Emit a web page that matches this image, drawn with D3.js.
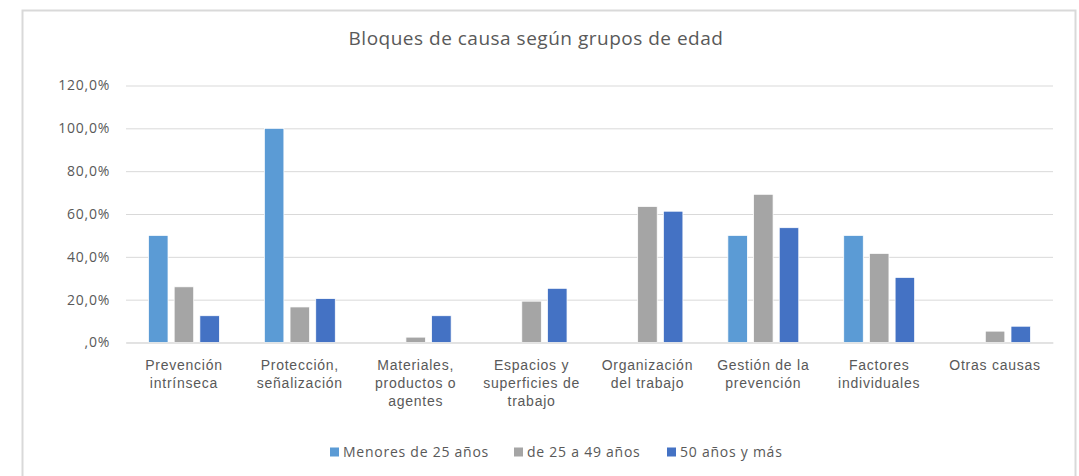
<!DOCTYPE html>
<html>
<head>
<meta charset="utf-8">
<script src="https://cdn.jsdelivr.net/npm/d3@7"></script>
<style>
  html, body { margin: 0; padding: 0; background: #fff; }
  svg { display: block; font-family: "Open Sans", "Noto Sans", sans-serif; }
</style>
</head>
<body>
<svg id="chart" width="1079" height="476"></svg>
<script>
// Categories (cause blocks) and the three age-group series, in percent
const categories = [
  "Prevención intrínseca",
  "Protección, señalización",
  "Materiales, productos o agentes",
  "Espacios y superficies de trabajo",
  "Organización del trabajo",
  "Gestión de la prevención",
  "Factores individuales",
  "Otras causas"
];
const seriesNames = ["Menores de 25 años", "de 25 a 49 años", "50 años y más"];
const menores25 = [50.0, 100.0, 0, 0, 0, 50.0, 50.0, 0];
const de25a49   = [26.0, 16.6, 2.5, 19.3, 63.5, 69.2, 41.6, 5.3];
const mayores50 = [12.5, 20.5, 12.5, 25.3, 61.3, 53.6, 30.4, 7.6];
const yTicks = [0, 20, 40, 60, 80, 100, 120];
const title = "Bloques de causa según grupos de edad";

const colors = ["#5B9BD5", "#A5A5A5", "#4472C4"];
const seriesValues = [menores25, de25a49, mayores50];

const labelSize = 14;
const labelSpacing = 0.75;

const svg = d3.select("#chart");

// chart frame
svg.append("rect")
  .attr("x", 22.5).attr("y", 10.5)
  .attr("width", 1053).attr("height", 480)
  .attr("fill", "#fff").attr("stroke", "#D9D9D9").attr("stroke-width", 2);

const plot = { left: 126, right: 1053, top: 85.5, bottom: 342.5 };

const y = d3.scaleLinear().domain([0, 120]).range([plot.bottom, plot.top]);
const x0 = d3.scaleBand().domain(categories).range([plot.left, plot.right]).padding(0);
const x1 = d3.scaleBand().domain(seriesNames).range([0, x0.bandwidth()])
  .paddingInner(0.24).paddingOuter(0.875);

// title
svg.append("text")
  .attr("x", 536).attr("y", 45)
  .attr("text-anchor", "middle")
  .attr("font-size", 19)
  .attr("letter-spacing", 0.5)
  .attr("fill", "#595959")
  .text(title);

// horizontal gridlines and value labels
const yAxis = d3.axisLeft(y)
  .tickValues(yTicks)
  .tickSize(-(plot.right - plot.left))
  .tickPadding(16)
  .tickFormat(d => d3.format(".1f")(d).replace(".", ",").replace(/^0/, "") + "%");

const gy = svg.append("g")
  .attr("transform", `translate(${plot.left},0)`)
  .call(yAxis);
gy.select(".domain").remove();
gy.selectAll(".tick line").attr("stroke", "#D9D9D9").attr("stroke-width", 1);
gy.selectAll(".tick text")
  .attr("font-size", labelSize)
  .attr("letter-spacing", labelSpacing)
  .attr("fill", "#595959")
  .attr("font-family", "\"Open Sans\", sans-serif");

// bars
const groups = svg.append("g").selectAll("g")
  .data(categories)
  .join("g")
  .attr("transform", d => `translate(${x0(d)},0)`);

groups.selectAll("rect")
  .data((d, i) => seriesNames.map((s, j) => ({ s, j, v: seriesValues[j][i] })))
  .join("rect")
  .filter(d => d.v > 0)
  .attr("x", d => x1(d.s))
  .attr("width", x1.bandwidth())
  .attr("y", d => y(d.v))
  .attr("height", d => y(0) - y(d.v))
  .attr("fill", d => colors[d.j])
  .attr("stroke", "#fff")
  .attr("stroke-width", 0.75);

// category axis
const xAxis = d3.axisBottom(x0).tickSize(0).tickPadding(0);
const gx = svg.append("g")
  .attr("transform", `translate(0,${plot.bottom})`)
  .call(xAxis);
gx.select(".domain").attr("stroke", "#D9D9D9");
gx.selectAll(".tick text").remove();

// wrapped category labels
const labelMax = 104;
const measure = svg.append("text")
  .attr("font-size", labelSize)
  .attr("letter-spacing", labelSpacing)
  .attr("visibility", "hidden");
function wrap(str) {
  const words = str.split(" ");
  const lines = [];
  let line = [];
  words.forEach(w => {
    const trial = line.concat(w).join(" ");
    measure.text(trial);
    if (line.length && measure.node().getComputedTextLength() > labelMax) {
      lines.push(line.join(" "));
      line = [w];
    } else {
      line.push(w);
    }
  });
  if (line.length) lines.push(line.join(" "));
  return lines;
}

gx.selectAll(".tick").each(function(d) {
  const t = d3.select(this).append("text")
    .attr("text-anchor", "middle")
    .attr("font-size", labelSize)
    .attr("letter-spacing", labelSpacing)
    .attr("fill", "#595959")
    .attr("y", 27);
  wrap(d).forEach((ln, k) => {
    t.append("tspan").attr("x", 0).attr("dy", k === 0 ? 0 : 18.4).text(ln);
  });
});
measure.remove();

// legend
const legendItems = [
  { name: seriesNames[0], x: 330 },
  { name: seriesNames[1], x: 514 },
  { name: seriesNames[2], x: 667 }
];
const lg = svg.append("g").selectAll("g")
  .data(legendItems)
  .join("g")
  .attr("transform", d => `translate(${d.x},452)`);
lg.append("rect")
  .attr("x", 0).attr("y", -4.5)
  .attr("width", 9).attr("height", 9)
  .attr("fill", (d, i) => colors[i]);
lg.append("text")
  .attr("x", 13).attr("y", 0)
  .attr("dy", "0.35em")
  .attr("font-size", labelSize)
  .attr("letter-spacing", labelSpacing)
  .attr("fill", "#595959")
  .text(d => d.name);
</script>
</body>
</html>
